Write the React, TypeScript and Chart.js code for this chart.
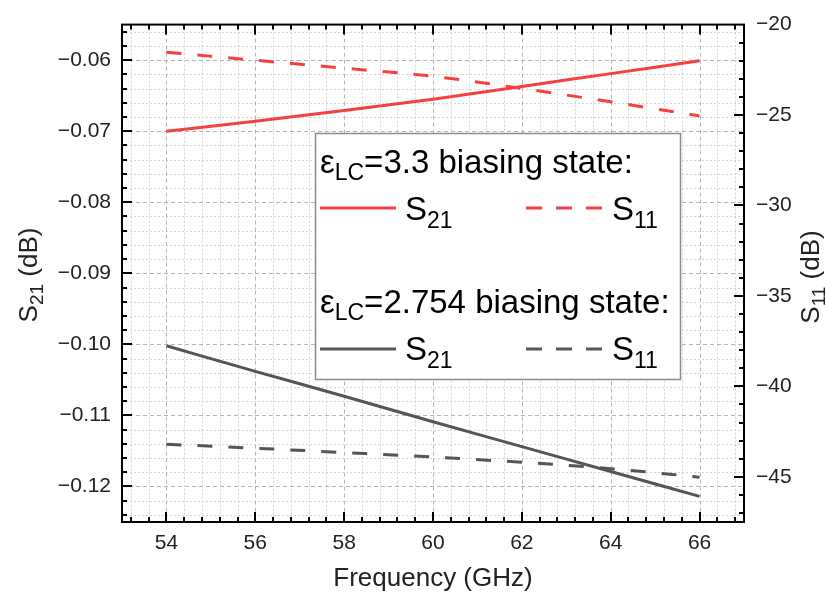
import React, { useEffect, useRef } from 'react';
import { Chart, registerables } from 'chart.js';

Chart.register(...registerables);

// ---- data ----
const frequencies = [54, 56, 58, 60, 62, 64, 66];
const s21Eps33 = [-0.07, -0.0686, -0.0671, -0.0655, -0.0637, -0.0619, -0.0601];
const s11Eps33 = [-21.53, -21.97, -22.41, -22.86, -23.53, -24.27, -25.05];
const s21Eps2754 = [-0.1002, -0.1038, -0.1073, -0.1109, -0.1144, -0.1179, -0.1214];
const s11Eps2754 = [-43.2, -43.42, -43.66, -43.91, -44.2, -44.55, -45.02];

const xTicks = [54, 56, 58, 60, 62, 64, 66];
const xTickLabels = ['54', '56', '58', '60', '62', '64', '66'];
const yLeftTicks = [-0.12, -0.11, -0.1, -0.09, -0.08, -0.07, -0.06];
const yLeftTickLabels = ['−0.12', '−0.11', '−0.10', '−0.09', '−0.08', '−0.07', '−0.06'];
const yRightTicks = [-45, -40, -35, -30, -25, -20];
const yRightTickLabels = ['−45', '−40', '−35', '−30', '−25', '−20'];

const RED = 'rgb(246, 64, 64)';
const GREY = 'rgb(85, 85, 85)';
const FONT = '"Liberation Sans", Arial, sans-serif';

type Part = { t: string; sub?: boolean };

function richWidth(ctx: CanvasRenderingContext2D, parts: Part[], size: number, subSize: number) {
  let w = 0;
  for (const p of parts) {
    ctx.font = `${p.sub ? subSize : size}px ${FONT}`;
    w += ctx.measureText(p.t).width;
  }
  return w;
}

function drawRich(
  ctx: CanvasRenderingContext2D,
  parts: Part[],
  x: number,
  y: number,
  size: number,
  subSize: number,
  subDrop: number,
  color: string
) {
  ctx.fillStyle = color;
  ctx.textBaseline = 'alphabetic';
  ctx.textAlign = 'left';
  let cx = x;
  for (const p of parts) {
    ctx.font = `${p.sub ? subSize : size}px ${FONT}`;
    ctx.fillText(p.t, cx, p.sub ? y + subDrop : y);
    cx += ctx.measureText(p.t).width;
  }
}

function range(start: number, end: number, step: number) {
  const out: number[] = [];
  const n = Math.round((end - start) / step);
  for (let i = 0; i <= n; i++) out.push(+(start + i * step).toFixed(6));
  return out;
}

const framePlugin = {
  id: 'framePlugin',
  beforeDatasetsDraw(chart: any) {
    const { ctx, chartArea: a, scales } = chart;
    const xs = scales.x;
    const yl = scales.y;
    const xMinor = range(53.2, 66.8, 0.4);
    const yMinor = range(-0.124, -0.056, 0.002);
    ctx.save();
    ctx.lineWidth = 1;
    // minor grid
    ctx.strokeStyle = '#d4d4d4';
    ctx.setLineDash([2, 2]);
    for (const v of xMinor) {
      if (xTicks.some((t) => Math.abs(t - v) < 1e-6)) continue;
      const px = Math.round(xs.getPixelForValue(v)) + 0.5;
      ctx.beginPath();
      ctx.moveTo(px, a.top);
      ctx.lineTo(px, a.bottom);
      ctx.stroke();
    }
    for (const v of yMinor) {
      if (yLeftTicks.some((t) => Math.abs(t - v) < 1e-6)) continue;
      const py = Math.round(yl.getPixelForValue(v)) + 0.5;
      ctx.beginPath();
      ctx.moveTo(a.left, py);
      ctx.lineTo(a.right, py);
      ctx.stroke();
    }
    // major grid
    ctx.strokeStyle = '#b4b4b4';
    ctx.setLineDash([4, 3]);
    for (const v of xTicks) {
      const px = Math.round(xs.getPixelForValue(v)) + 0.5;
      ctx.beginPath();
      ctx.moveTo(px, a.top);
      ctx.lineTo(px, a.bottom);
      ctx.stroke();
    }
    for (const v of yLeftTicks) {
      const py = Math.round(yl.getPixelForValue(v)) + 0.5;
      ctx.beginPath();
      ctx.moveTo(a.left, py);
      ctx.lineTo(a.right, py);
      ctx.stroke();
    }
    ctx.restore();
  },
  afterDatasetsDraw(chart: any) {
    const { ctx, chartArea: a, scales } = chart;
    const xs = scales.x;
    const yl = scales.y;
    const yr = scales.y1;
    ctx.save();

    // ---- legend box ----
    const bx = 315.5, by = 133.5, bw = 365, bh = 246;
    ctx.fillStyle = '#ffffff';
    ctx.fillRect(bx, by, bw, bh);
    ctx.strokeStyle = '#8c8c8c';
    ctx.lineWidth = 1.5;
    ctx.setLineDash([]);
    ctx.strokeRect(bx, by, bw, bh);

    const big = 33;
    const small = 23;
    drawRich(ctx, [{ t: 'ε' }, { t: 'LC', sub: true }, { t: '=3.3 biasing state:' }], 320, 173, big, small, 7, '#000');
    drawRich(ctx, [{ t: 'ε' }, { t: 'LC', sub: true }, { t: '=2.754 biasing state:' }], 320, 313, big, small, 7, '#000');

    const sample = (x1: number, x2: number, y: number, color: string, dashed: boolean) => {
      ctx.save();
      ctx.strokeStyle = color;
      ctx.lineWidth = 3;
      ctx.setLineDash(dashed ? [16, 14] : []);
      ctx.beginPath();
      ctx.moveTo(x1, y);
      ctx.lineTo(x2, y);
      ctx.stroke();
      ctx.restore();
    };
    sample(320, 396, 208, RED, false);
    sample(526, 602, 208, RED, true);
    sample(320, 396, 349, GREY, false);
    sample(526, 602, 349, GREY, true);
    drawRich(ctx, [{ t: 'S' }, { t: '21', sub: true }], 405, 220, big, small, 8, '#000');
    drawRich(ctx, [{ t: 'S' }, { t: '11', sub: true }], 612, 220, big, small, 8, '#000');
    drawRich(ctx, [{ t: 'S' }, { t: '21', sub: true }], 405, 360, big, small, 8, '#000');
    drawRich(ctx, [{ t: 'S' }, { t: '11', sub: true }], 612, 360, big, small, 8, '#000');

    // ---- frame ----
    ctx.strokeStyle = '#000';
    ctx.lineWidth = 2;
    ctx.strokeRect(a.left, a.top, a.right - a.left, a.bottom - a.top);

    // ---- ticks (inside) ----
    ctx.lineWidth = 2;
    const major = 10;
    const minor = 5;
    const isMajor = (arr: number[], v: number) => arr.some((t) => Math.abs(t - v) < 1e-6);
    for (const v of range(53.2, 66.8, 0.4)) {
      const px = Math.round(xs.getPixelForValue(v));
      const len = isMajor(xTicks, v) ? major : minor;
      ctx.beginPath();
      ctx.moveTo(px, a.bottom);
      ctx.lineTo(px, a.bottom - len);
      ctx.moveTo(px, a.top);
      ctx.lineTo(px, a.top + len);
      ctx.stroke();
    }
    for (const v of range(-0.124, -0.056, 0.002)) {
      const py = Math.round(yl.getPixelForValue(v));
      const len = isMajor(yLeftTicks, v) ? major : minor;
      ctx.beginPath();
      ctx.moveTo(a.left, py);
      ctx.lineTo(a.left + len, py);
      ctx.stroke();
    }
    for (const v of range(-47, -21, 1)) {
      const py = Math.round(yr.getPixelForValue(v));
      const len = isMajor(yRightTicks, v) ? major : minor;
      ctx.beginPath();
      ctx.moveTo(a.right, py);
      ctx.lineTo(a.right - len, py);
      ctx.stroke();
    }

    // ---- axis titles ----
    const tSize = 26;
    const tSub = 19;
    const xTitle: Part[] = [{ t: 'Frequency (GHz)' }];
    const wX = richWidth(ctx, xTitle, tSize, tSub);
    drawRich(ctx, xTitle, (a.left + a.right) / 2 - wX / 2, 586, tSize, tSize, 0, '#222');

    const leftTitle: Part[] = [{ t: 'S' }, { t: '21', sub: true }, { t: ' (dB)' }];
    const wL = richWidth(ctx, leftTitle, tSize, tSub);
    ctx.save();
    ctx.translate(37, 275);
    ctx.rotate(-Math.PI / 2);
    drawRich(ctx, leftTitle, -wL / 2, 0, tSize, tSub, 6, '#222');
    ctx.restore();

    const rightTitle: Part[] = [{ t: 'S' }, { t: '11', sub: true }, { t: ' (dB)' }];
    const wR = richWidth(ctx, rightTitle, tSize, tSub);
    ctx.save();
    ctx.translate(819, 277);
    ctx.rotate(-Math.PI / 2);
    drawRich(ctx, rightTitle, -wR / 2, 0, tSize, tSub, 6, '#222');
    ctx.restore();

    ctx.restore();
  },
};

function pts(ys: number[]) {
  return frequencies.map((f, i) => ({ x: f, y: ys[i] }));
}

export default function App() {
  const ref = useRef<HTMLCanvasElement | null>(null);

  useEffect(() => {
    document.body.style.margin = '0';
    if (!ref.current) return;
    const tickFont = { family: FONT, size: 21 };
    const chart = new Chart(ref.current, {
      type: 'line',
      data: {
        datasets: [
          {
            label: 'S21 εLC=3.3',
            data: pts(s21Eps33),
            borderColor: RED,
            borderWidth: 3,
            pointRadius: 0,
            yAxisID: 'y',
            cubicInterpolationMode: 'monotone',
          },
          {
            label: 'S11 εLC=3.3',
            data: pts(s11Eps33),
            borderColor: RED,
            borderWidth: 3,
            borderDash: [15, 16],
            pointRadius: 0,
            yAxisID: 'y1',
            cubicInterpolationMode: 'monotone',
          },
          {
            label: 'S21 εLC=2.754',
            data: pts(s21Eps2754),
            borderColor: GREY,
            borderWidth: 3,
            pointRadius: 0,
            yAxisID: 'y',
            cubicInterpolationMode: 'monotone',
          },
          {
            label: 'S11 εLC=2.754',
            data: pts(s11Eps2754),
            borderColor: GREY,
            borderWidth: 3,
            borderDash: [15, 16],
            pointRadius: 0,
            yAxisID: 'y1',
            cubicInterpolationMode: 'monotone',
          },
        ],
      },
      options: {
        animation: false,
        responsive: false,
        devicePixelRatio: 1,
        layout: { padding: { top: 24, left: 0, right: 0, bottom: 0 } },
        plugins: {
          legend: { display: false },
          title: { display: false },
          tooltip: { enabled: false },
        },
        scales: {
          x: {
            type: 'linear',
            min: 53,
            max: 67,
            grid: { display: false, drawTicks: false },
            border: { display: false },
            afterBuildTicks: (s: any) => {
              s.ticks = xTicks.map((v) => ({ value: v }));
            },
            afterFit: (s: any) => {
              s.height = 75;
            },
            ticks: {
              font: tickFont,
              color: '#222',
              padding: 9,
              maxRotation: 0,
              autoSkip: false,
              callback: (_v: any, i: number) => xTickLabels[i],
            },
          },
          y: {
            type: 'linear',
            position: 'left',
            min: -0.125,
            max: -0.055,
            grid: { display: false, drawTicks: false },
            border: { display: false },
            afterBuildTicks: (s: any) => {
              s.ticks = yLeftTicks.map((v) => ({ value: v }));
            },
            afterFit: (s: any) => {
              s.width = 122;
            },
            ticks: {
              font: tickFont,
              color: '#222',
              padding: 11,
              autoSkip: false,
              callback: (_v: any, i: number) => yLeftTickLabels[i],
            },
          },
          y1: {
            type: 'linear',
            position: 'right',
            min: -47.5,
            max: -20,
            grid: { display: false, drawTicks: false },
            border: { display: false },
            afterBuildTicks: (s: any) => {
              s.ticks = yRightTicks.map((v) => ({ value: v }));
            },
            afterFit: (s: any) => {
              s.width = 83;
            },
            ticks: {
              font: tickFont,
              color: '#222',
              padding: 12,
              autoSkip: false,
              callback: (_v: any, i: number) => yRightTickLabels[i],
            },
          },
        },
      },
      plugins: [framePlugin],
    } as any);
    return () => chart.destroy();
  }, []);

  return (
    <div style={{ width: 827, height: 597, background: '#fff' }}>
      <canvas ref={ref} width={827} height={597} style={{ display: 'block' }} />
    </div>
  );
}
